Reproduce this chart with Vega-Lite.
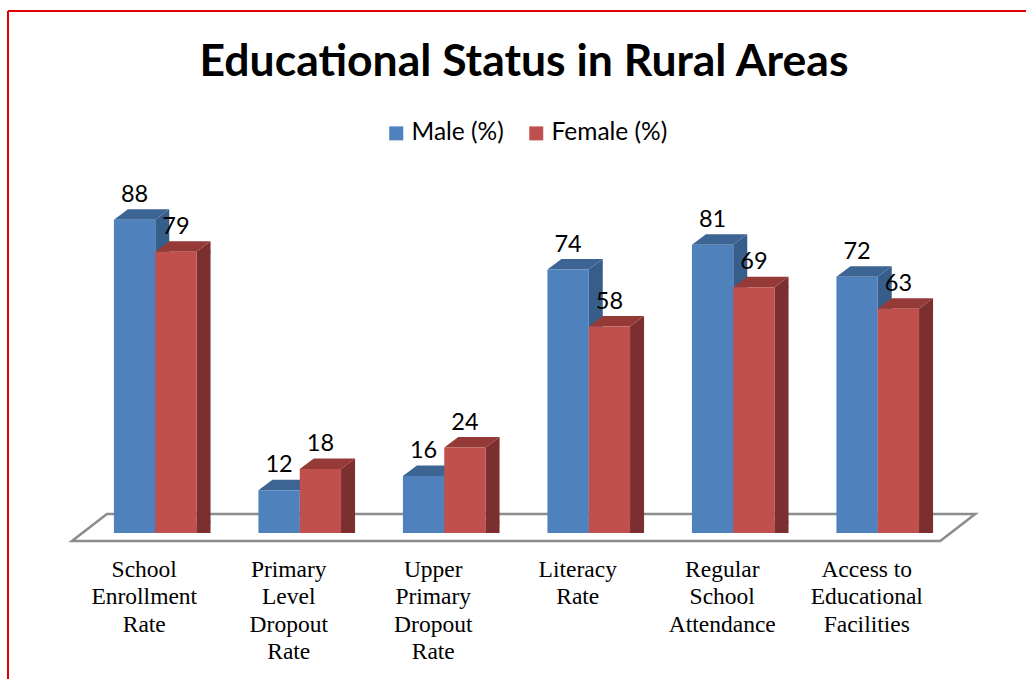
{
  "$schema": "https://vega.github.io/schema/vega-lite/v6.json",
  "width": 1018,
  "height": 668,
  "autosize": {"type": "none"},
  "padding": {"left": 8, "top": 11, "right": 0, "bottom": 0},
  "background": "white",
  "view": {"fill": "white", "stroke": "#e00000", "strokeWidth": 2, "strokeDash": [1018, 1686, 668, 0]},
  "title": {
    "text": "Educational Status in Rural Areas",
    "font": "Lato",
    "fontSize": 44.5,
    "fontWeight": "bold",
    "color": "black",
    "anchor": "middle",
    "frame": "group",
    "orient": "top",
    "offset": 0,
    "dx": 7,
    "dy": 74
  },
  "datasets": {
    "bars": [
      {"category": "School Enrollment Rate", "series": "Male (%)", "value": 88},
      {"category": "School Enrollment Rate", "series": "Female (%)", "value": 79},
      {"category": "Primary Level Dropout Rate", "series": "Male (%)", "value": 12},
      {"category": "Primary Level Dropout Rate", "series": "Female (%)", "value": 18},
      {"category": "Upper Primary Dropout Rate", "series": "Male (%)", "value": 16},
      {"category": "Upper Primary Dropout Rate", "series": "Female (%)", "value": 24},
      {"category": "Literacy Rate", "series": "Male (%)", "value": 74},
      {"category": "Literacy Rate", "series": "Female (%)", "value": 58},
      {"category": "Regular School Attendance", "series": "Male (%)", "value": 81},
      {"category": "Regular School Attendance", "series": "Female (%)", "value": 69},
      {"category": "Access to Educational Facilities", "series": "Male (%)", "value": 72},
      {"category": "Access to Educational Facilities", "series": "Female (%)", "value": 63}
    ],
    "floor": [
      {"category": "School Enrollment Rate", "value": 0}
    ]
  },
  "data": {"name": "bars"},
  "encoding": {
    "x": {
      "field": "category",
      "type": "nominal",
      "sort": null,
      "scale": {
        "domain": ["School Enrollment Rate", "Primary Level Dropout Rate", "Upper Primary Dropout Rate", "Literacy Rate", "Regular School Attendance", "Access to Educational Facilities"],
        "range": [75, 942],
        "paddingInner": 0.428,
        "paddingOuter": 0.214
      },
      "axis": {
        "title": null,
        "domain": false,
        "ticks": false,
        "grid": false,
        "labelAngle": 0,
        "labelFont": "Liberation Serif",
        "labelFontSize": 23.5,
        "labelColor": "black",
        "labelLineHeight": 27.3,
        "labelBaseline": "alphabetic",
        "labelPadding": 43.7,
        "labelOffset": -11,
        "offset": -146,
        "labelLimit": 0,
        "labelOverlap": false,
        "labelBound": false,
        "labelExpr": "datum.value == 'Access to Educational Facilities' ? ['Access to', 'Educational', 'Facilities'] : split(datum.value, ' ')"
      }
    },
    "y": {
      "field": "value",
      "type": "quantitative",
      "scale": {"domain": [0, 100], "range": [522, 166], "nice": false, "zero": true},
      "axis": null
    }
  },
  "layer": [
    {
      "data": {"name": "floor"},
      "mark": {"type": "point", "shape": "M -0.833 0.08 L -0.483 -0.19 L 8.2 -0.19 L 7.85 0.08 Z", "size": 40000, "filled": true, "fill": "white", "stroke": "#8c8c8c", "strokeWidth": 2.5, "opacity": 1}
    },
    {
      "transform": [{"filter": "datum.series === 'Male (%)'"}],
      "mark": {"type": "bar", "width": 14, "xOffset": 7, "y2Offset": -10.5, "opacity": 1, "color": "#375d8b"}
    },
    {
      "transform": [{"filter": "datum.series === 'Female (%)'"}],
      "mark": {"type": "bar", "width": 14, "xOffset": 48.3, "y2Offset": -10.5, "opacity": 1, "color": "#7c2f2f"}
    },
    {
      "mark": {"type": "point", "shape": "M 2.065 0.1 L 2.065 0 L 3.465 -1.05 L 3.465 0.1 Z", "size": 400, "filled": true, "strokeWidth": 0, "opacity": 1},
      "encoding": {
        "xOffset": {"field": "series", "type": "nominal", "scale": {"domain": ["Male (%)", "Female (%)"], "paddingInner": 0, "paddingOuter": 0}},
        "color": {"condition": {"test": "datum.series === 'Male (%)'", "value": "#375d8b"}, "value": "#7c2f2f"}
      }
    },
    {
      "mark": {"type": "point", "shape": "M 2.065 -1.15 L 3.465 -1.15 L 3.465 -1.05 L 2.065 0 Z", "size": 400, "filled": true, "strokeWidth": 0, "opacity": 1},
      "encoding": {
        "xOffset": {"field": "series", "type": "nominal", "scale": {"domain": ["Male (%)", "Female (%)"], "paddingInner": 0, "paddingOuter": 0}},
        "y": {"datum": 0},
        "color": {"condition": {"test": "datum.series === 'Male (%)'", "value": "#375d8b"}, "value": "#7c2f2f"}
      }
    },
    {
      "mark": {"type": "point", "shape": "M -2.065 0 L 2.065 0 L 3.465 -1.05 L -0.665 -1.05 Z", "size": 400, "filled": true, "strokeWidth": 0, "opacity": 1},
      "encoding": {
        "xOffset": {"field": "series", "type": "nominal", "scale": {"domain": ["Male (%)", "Female (%)"], "paddingInner": 0, "paddingOuter": 0}},
        "color": {"condition": {"test": "datum.series === 'Male (%)'", "value": "#3d6594"}, "value": "#953a37"}
      }
    },
    {
      "mark": {"type": "bar", "opacity": 1},
      "encoding": {
        "xOffset": {"field": "series", "type": "nominal", "scale": {"domain": ["Male (%)", "Female (%)"], "paddingInner": 0, "paddingOuter": 0}},
        "color": {
          "field": "series",
          "type": "nominal",
          "scale": {"domain": ["Male (%)", "Female (%)"], "range": ["#4f81bd", "#c0504d"]},
          "legend": {
            "orient": "none",
            "legendX": 376,
            "legendY": 110,
            "direction": "horizontal",
            "title": null,
            "symbolType": "square",
            "symbolSize": 196,
            "symbolStrokeWidth": 0,
            "symbolOpacity": 1,
            "labelFont": "Lato",
            "labelFontSize": 24.5,
            "labelColor": "black",
            "labelOffset": 3,
            "columnPadding": 20
          }
        }
      }
    },
    {
      "mark": {"type": "text", "dy": -18, "baseline": "alphabetic", "align": "center", "font": "Lato", "fontSize": 23.5, "color": "black"},
      "encoding": {
        "xOffset": {"field": "series", "type": "nominal", "scale": {"domain": ["Male (%)", "Female (%)"], "paddingInner": 0, "paddingOuter": 0}},
        "text": {"field": "value", "type": "quantitative"}
      }
    }
  ]
}
